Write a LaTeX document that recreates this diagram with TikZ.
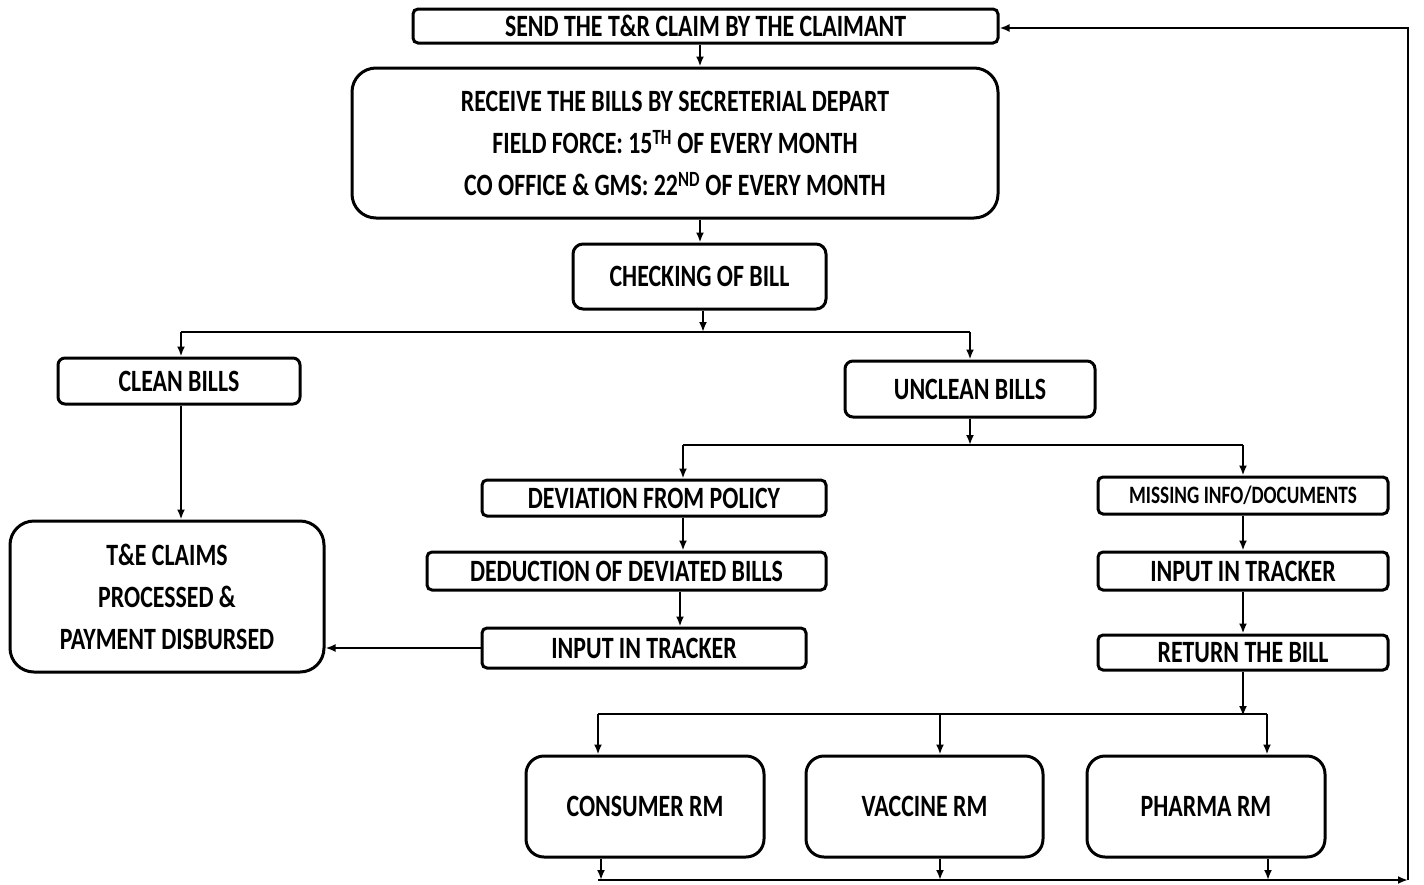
\documentclass[tikz,border=0pt]{standalone}
\usepackage{fontspec}
\setmainfont{Carlito}[FakeStretch=0.77]
\usetikzlibrary{arrows.meta}
\begin{document}
\begin{tikzpicture}[x=1pt,y=-1pt,
  every node/.style={font=\fontsize{31}{42}\selectfont\bfseries},
  box/.style={draw,line width=3pt,inner sep=0pt,align=center,rounded corners=5pt},
  bigbox/.style={box,rounded corners=24pt},
  ln/.style={line width=2.8pt},
  arr/.style={ln,-{Latex[length=10pt,width=8pt]}}]
\useasboundingbox (0,0) rectangle (1424,884);
% nodes
\node[box,minimum width=585pt,minimum height=34pt] (send) at (705.5,26) {SEND THE T\&R CLAIM BY THE CLAIMANT};
\node[bigbox,minimum width=646pt,minimum height=150pt] (recv) at (675,143) {RECEIVE THE BILLS BY SECRETERIAL DEPART\\FIELD FORCE: 15\textsuperscript{TH} OF EVERY MONTH\\CO OFFICE \& GMS: 22\textsuperscript{ND} OF EVERY MONTH};
\node[box,rounded corners=10pt,minimum width=253pt,minimum height=65pt] (check) at (699.5,276.5) {CHECKING OF BILL};
\node[box,rounded corners=7pt,minimum width=242pt,minimum height=46pt] (clean) at (179,381) {CLEAN BILLS};
\node[box,rounded corners=8pt,minimum width=250pt,minimum height=56pt] (unclean) at (970,389) {UNCLEAN BILLS};
\node[box,minimum width=344pt,minimum height=36pt] (dev) at (654,498) {DEVIATION FROM POLICY};
\node[box,minimum width=399pt,minimum height=38pt] (ded) at (626.5,571) {DEDUCTION OF DEVIATED BILLS};
\node[box,minimum width=324pt,minimum height=40pt] (inL) at (644,648) {INPUT IN TRACKER};
\node[bigbox,minimum width=314pt,minimum height=151pt] (te) at (167,596.5) {T\&E CLAIMS\\PROCESSED \&\\PAYMENT DISBURSED};
\node[box,minimum width=290pt,minimum height=37pt,font=\fontsize{25}{30}\selectfont\bfseries] (miss) at (1243,495.5) {MISSING INFO/DOCUMENTS};
\node[box,minimum width=290pt,minimum height=38pt] (inR) at (1243,571) {INPUT IN TRACKER};
\node[box,minimum width=290pt,minimum height=35pt] (ret) at (1243,652.5) {RETURN THE BILL};
\node[bigbox,rounded corners=18pt,minimum width=238pt,minimum height=101pt] (cons) at (645,806.5) {CONSUMER RM};
\node[bigbox,rounded corners=18pt,minimum width=237pt,minimum height=101pt] (vac) at (924.5,806.5) {VACCINE RM};
\node[bigbox,rounded corners=18pt,minimum width=238pt,minimum height=101pt] (pha) at (1206,806.5) {PHARMA RM};
% coordinates
\coordinate (xa) at (700,0);
\coordinate (j1) at (703,332);
\coordinate (j1L) at (181,332);
\coordinate (j1R) at (970,332);
\coordinate (j2) at (970,445);
\coordinate (j2L) at (683,445);
\coordinate (j2R) at (1243,445);
\coordinate (xd) at (680,0);
\coordinate (j3) at (1243,714);
\coordinate (j3L) at (598,714);
\coordinate (j3M) at (940,714);
\coordinate (j3R) at (1267,714);
\coordinate (xc) at (601,0);
\coordinate (xp) at (1268,0);
\coordinate (bL) at (598,880);
\coordinate (bR) at (1408,880);
\coordinate (tR) at (1408,28);
% connectors
\draw[arr] (send.south -| xa) -- (recv.north -| xa);
\draw[arr] (recv.south -| xa) -- (check.north -| xa);
\draw[arr] (check.south -| j1) -- (j1);
\draw[ln] (j1L) -- (j1R);
\draw[arr] (j1L) -- (clean.north -| j1L);
\draw[arr] (j1R) -- (unclean.north -| j1R);
\draw[arr] (clean.south -| j1L) -- (te.north -| j1L);
\draw[arr] (unclean.south -| j2) -- (j2);
\draw[ln] (j2L) -- (j2R);
\draw[arr] (j2L) -- (dev.north -| j2L);
\draw[arr] (j2R) -- (miss.north -| j2R);
\draw[arr] (dev.south -| j2L) -- (ded.north -| j2L);
\draw[arr] (ded.south -| xd) -- (inL.north -| xd);
\draw[arr] (inL.west) -- (te.east |- inL.west);
\draw[arr] (miss.south -| j2R) -- (inR.north -| j2R);
\draw[arr] (inR.south -| j2R) -- (ret.north -| j2R);
\draw[arr] (ret.south -| j3) -- ([yshift=-2pt]j3);
\draw[ln] (j3L) -- (j3R);
\draw[arr] (j3L) -- (cons.north -| j3L);
\draw[arr] (j3M) -- (vac.north -| j3M);
\draw[arr] (j3R) -- (pha.north -| j3R);
\draw[arr] (cons.south -| xc) -- (bL -| xc);
\draw[arr] (vac.south -| j3M) -- (bL -| j3M);
\draw[arr] (pha.south -| xp) -- (bL -| xp);
\draw[arr] (bL) -- (bR);
\draw[arr] (bR) -- (tR) -- (send.east |- tR);
\end{tikzpicture}
\end{document}
